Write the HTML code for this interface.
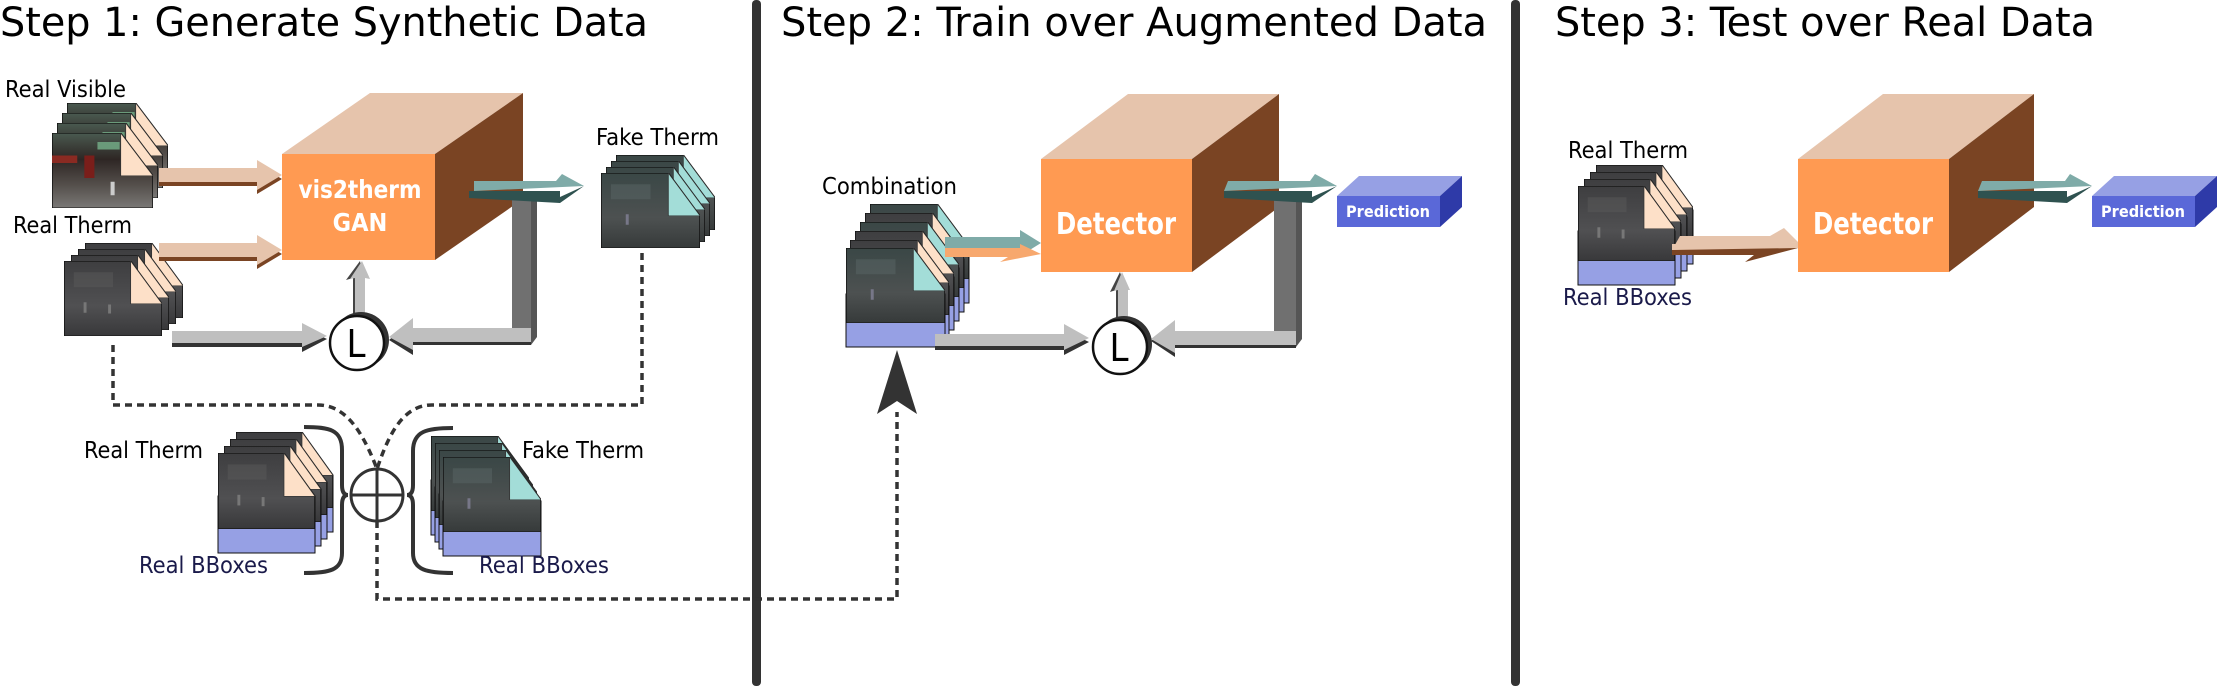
<!DOCTYPE html>
<html><head><meta charset="utf-8"><style>
html,body{margin:0;padding:0;background:#fff;}
svg{display:block;}
text{font-family:"DejaVu Sans Condensed","DejaVu Sans","Liberation Sans",sans-serif;}
</style></head><body>
<svg width="2217" height="689" viewBox="0 0 2217 689" xmlns="http://www.w3.org/2000/svg">
<defs>
<linearGradient id="gt" x1="0" y1="0" x2="0" y2="1"><stop offset="0" stop-color="#3e3e40"/><stop offset="0.6" stop-color="#505052"/><stop offset="1" stop-color="#38383a"/></linearGradient>
<linearGradient id="gf" x1="0" y1="0" x2="0" y2="1"><stop offset="0" stop-color="#3a4746"/><stop offset="0.6" stop-color="#4d5151"/><stop offset="1" stop-color="#363a3a"/></linearGradient>
<linearGradient id="gv" x1="0" y1="0" x2="0" y2="1"><stop offset="0" stop-color="#4a5a50"/><stop offset="0.35" stop-color="#2e2624"/><stop offset="0.7" stop-color="#55504c"/><stop offset="1" stop-color="#7a7876"/></linearGradient>
<symbol id="therm" viewBox="0 0 100 100" preserveAspectRatio="none">
<polygon points="0,0 68,0 100,57 100,100 0,100" fill="url(#gt)" stroke="#111" stroke-width="1.5"/>
<rect x="10" y="15" width="40" height="20" fill="#5a5a5a" opacity="0.5"/>
<rect x="20" y="55" width="3" height="14" fill="#777"/><rect x="45" y="58" width="3" height="12" fill="#777"/>
<polygon points="68,0 100,57 68,57" fill="#FDE0C8" stroke="#333" stroke-width="0.8"/>
</symbol>
<symbol id="fake" viewBox="0 0 100 100" preserveAspectRatio="none">
<polygon points="0,0 68,0 100,57 100,100 0,100" fill="url(#gf)" stroke="#111" stroke-width="1.5"/>
<rect x="10" y="15" width="40" height="20" fill="#5a6666" opacity="0.5"/>
<rect x="25" y="55" width="3" height="14" fill="#778"/>
<polygon points="68,0 100,57 68,57" fill="#A3DDD8" stroke="#333" stroke-width="0.8"/>
</symbol>
<symbol id="vis" viewBox="0 0 100 100" preserveAspectRatio="none">
<polygon points="0,0 68,0 100,57 100,100 0,100" fill="url(#gv)" stroke="#111" stroke-width="1.5"/>
<rect x="0" y="30" width="25" height="10" fill="#8a2a22"/><rect x="45" y="12" width="22" height="10" fill="#6a9a7a"/>
<rect x="32" y="30" width="10" height="30" fill="#7a1e1a"/>
<rect x="58" y="65" width="4" height="18" fill="#ccc"/>
<polygon points="68,0 100,57 68,57" fill="#FDE0C8" stroke="#333" stroke-width="0.8"/>
</symbol>
</defs>

<rect x="752" y="0" width="9" height="686" rx="4" fill="#333"/>
<rect x="1511" y="0" width="9" height="686" rx="4" fill="#333"/>

<text x="0" y="36" font-size="40" textLength="648" lengthAdjust="spacingAndGlyphs">Step 1: Generate Synthetic Data</text>
<text x="781" y="36" font-size="40" textLength="706" lengthAdjust="spacingAndGlyphs">Step 2: Train over Augmented Data</text>
<text x="1555" y="36" font-size="40" textLength="540" lengthAdjust="spacingAndGlyphs">Step 3: Test over Real Data</text>

<!-- STEP 1 -->
<text x="5" y="97" font-size="23" textLength="121" lengthAdjust="spacingAndGlyphs">Real Visible</text>
<use href="#vis" x="67" y="103" width="101" height="75"/>
<use href="#vis" x="62" y="113" width="101" height="75"/>
<use href="#vis" x="57" y="123" width="101" height="75"/>
<use href="#vis" x="52" y="133" width="101" height="75"/>

<text x="13" y="233" font-size="23" textLength="119" lengthAdjust="spacingAndGlyphs">Real Therm</text>
<use href="#therm" x="85" y="243" width="98" height="75"/>
<use href="#therm" x="78" y="249" width="98" height="75"/>
<use href="#therm" x="71" y="255" width="98" height="75"/>
<use href="#therm" x="64" y="261" width="98" height="75"/>

<text x="596" y="145" font-size="23" textLength="123" lengthAdjust="spacingAndGlyphs">Fake Therm</text>
<use href="#fake" x="616" y="155" width="99" height="75"/>
<use href="#fake" x="611" y="161" width="99" height="75"/>
<use href="#fake" x="606" y="167" width="99" height="75"/>
<use href="#fake" x="601" y="173" width="99" height="75"/>

<polygon points="159,172 257,172 257,164 282,179 257,194 257,186 159,186" fill="#7A4423"/>
<polygon points="159,168 257,168 257,160 282,175 257,190 257,182 159,182" fill="#E6C4AC"/>
<polygon points="159,247 257,247 257,239 282,254 257,269 257,261 159,261" fill="#7A4423"/>
<polygon points="159,243 257,243 257,235 282,250 257,265 257,257 159,257" fill="#E6C4AC"/>

<polygon points="282,154 435,154 523,93 370,93" fill="#E6C4AC"/>
<polygon points="435,154 523,93 523,199 435,260" fill="#7A4423"/>
<rect x="282" y="154" width="153" height="106" fill="#FF9A52"/>
<text x="360" y="198" font-size="25" font-weight="bold" fill="#fff" text-anchor="middle" textLength="123" lengthAdjust="spacingAndGlyphs">vis2therm</text>
<text x="360" y="231" font-size="25" font-weight="bold" fill="#fff" text-anchor="middle">GAN</text>

<polygon points="512,198 531,198 537,192 537,337 531,345 512,345" fill="#555"/>
<rect x="512" y="198" width="19" height="147" fill="#707070"/>
<polygon points="474,181 556,181 562,174 584,186 474,191" fill="#7FABA8"/>
<polygon points="469,191 560,191 560,197 584,186 560,203 469,198" fill="#2F5250"/>
<polygon points="531,330 413,330 413,320 389,340 413,355 413,345 531,345" fill="#333"/>
<polygon points="531,328 413,328 413,318 389,337 413,350 413,342 531,342" fill="#BFBFBF"/>

<polygon points="172,335 302,335 302,327 327,339 302,352 302,347 172,347" fill="#333"/>
<polygon points="172,331 302,331 302,323 327,336 302,347 302,343 172,343" fill="#BFBFBF"/>
<polygon points="353,318 353,278 346,280 360,261 364,280 363,318" fill="#444"/>
<polygon points="355,318 355,278 350,279 362,261 370,279 365,278 365,318" fill="#BFBFBF"/>

<circle cx="361" cy="340" r="28" fill="#333"/>
<circle cx="357" cy="343" r="27" fill="#fff" stroke="#111" stroke-width="2.5"/>
<text x="356" y="357" font-size="38" text-anchor="middle">L</text>

<g fill="none" stroke="#333" stroke-width="3.5" stroke-dasharray="7 5">
<path d="M113,345 V405 H318 C345,405 362,430 377,469"/>
<path d="M642,253 V405 H432 C405,405 390,430 377,469"/>
<path d="M377,521 V599 H897 V412"/>
</g>
<polygon points="897,350 917,414 897,401 877,414" fill="#333"/>

<circle cx="377" cy="495" r="26" fill="#fff" stroke="#333" stroke-width="3"/>
<line x1="351" y1="495" x2="403" y2="495" stroke="#333" stroke-width="3"/>
<line x1="377" y1="469" x2="377" y2="521" stroke="#333" stroke-width="3"/>

<g fill="none" stroke="#333" stroke-width="4">
<path d="M304,427 C330,427 342,430 342,450 V485 Q342,495 348,495 Q342,495 342,505 V553 C342,570 330,573 304,573"/>
<path d="M453,428 C427,428 413,431 413,451 V485 Q413,495 407,495 Q413,495 413,505 V553 C413,570 427,573 453,573"/>
</g>

<text x="84" y="458" font-size="23" textLength="119" lengthAdjust="spacingAndGlyphs">Real Therm</text>
<g>
<rect x="236" y="475" width="97" height="57" fill="#96A0E4" stroke="#111"/><use href="#therm" x="236" y="432" width="97" height="76"/>
<rect x="230" y="482" width="97" height="57" fill="#96A0E4" stroke="#111"/><use href="#therm" x="230" y="439" width="97" height="76"/>
<rect x="224" y="489" width="97" height="57" fill="#96A0E4" stroke="#111"/><use href="#therm" x="224" y="446" width="97" height="76"/>
<rect x="218" y="496" width="97" height="57" fill="#96A0E4" stroke="#111"/><use href="#therm" x="218" y="453" width="97" height="76"/>
</g>
<text x="139" y="573" font-size="23" fill="#1a1a4a" textLength="129" lengthAdjust="spacingAndGlyphs">Real BBoxes</text>

<g>
<rect x="431" y="480" width="98" height="55" fill="#96A0E4" stroke="#111"/><use href="#fake" x="431" y="436" width="98" height="75"/>
<rect x="435" y="487" width="98" height="55" fill="#96A0E4" stroke="#111"/><use href="#fake" x="435" y="443" width="98" height="75"/>
<rect x="439" y="494" width="98" height="55" fill="#96A0E4" stroke="#111"/><use href="#fake" x="439" y="450" width="98" height="75"/>
<rect x="443" y="501" width="98" height="55" fill="#96A0E4" stroke="#111"/><use href="#fake" x="443" y="457" width="98" height="75"/>
</g>
<text x="522" y="458" font-size="23" textLength="122" lengthAdjust="spacingAndGlyphs">Fake Therm</text>
<text x="479" y="573" font-size="23" fill="#1a1a4a" textLength="130" lengthAdjust="spacingAndGlyphs">Real BBoxes</text>

<!-- STEP 2 -->
<text x="822" y="194" font-size="23" textLength="135" lengthAdjust="spacingAndGlyphs">Combination</text>
<g>
<rect x="870" y="250" width="99" height="53" fill="#96A0E4" stroke="#111"/><use href="#fake" x="870" y="204" width="99" height="75"/>
<rect x="865" y="259" width="99" height="53" fill="#96A0E4" stroke="#111"/><use href="#therm" x="865" y="213" width="99" height="75"/>
<rect x="860" y="268" width="99" height="53" fill="#96A0E4" stroke="#111"/><use href="#fake" x="860" y="222" width="99" height="75"/>
<rect x="855" y="277" width="99" height="53" fill="#96A0E4" stroke="#111"/><use href="#therm" x="855" y="231" width="99" height="75"/>
<rect x="850" y="286" width="99" height="53" fill="#96A0E4" stroke="#111"/><use href="#therm" x="850" y="240" width="99" height="75"/>
<rect x="846" y="294" width="99" height="53" fill="#96A0E4" stroke="#111"/><use href="#fake" x="846" y="248" width="99" height="75"/>
</g>

<polygon points="945,237 1020,237 1020,230 1041,243 1020,256 1020,249 945,249" fill="#7FABA8"/>
<polygon points="945,248 1020,248 1020,244 1041,254 1000,262 1008,257 945,257" fill="#F7A86E"/>

<polygon points="1041,159 1192,159 1279,94 1128,94" fill="#E6C4AC"/>
<polygon points="1192,159 1279,94 1279,207 1192,272" fill="#7A4423"/>
<rect x="1041" y="159" width="151" height="113" fill="#FF9A52"/>
<text x="1116" y="234" font-size="30" font-weight="bold" fill="#fff" text-anchor="middle" textLength="120" lengthAdjust="spacingAndGlyphs">Detector</text>

<polygon points="1274,198 1296,198 1302,192 1302,339 1296,347 1274,347" fill="#555"/>
<rect x="1274" y="198" width="22" height="149" fill="#707070"/>
<polygon points="1228,181 1310,181 1315,174 1337,186 1224,191" fill="#7FABA8"/>
<polygon points="1224,191 1312,191 1312,197 1337,186 1312,203 1224,198" fill="#2F5250"/>

<polygon points="1296,333 1175,333 1175,322 1151,341 1175,357 1175,348 1296,348" fill="#333"/>
<polygon points="1296,331 1175,331 1175,320 1151,339 1175,353 1175,345 1296,345" fill="#BFBFBF"/>

<polygon points="935,338 1064,338 1064,330 1089,342 1064,355 1064,350 935,350" fill="#333"/>
<polygon points="935,334 1064,334 1064,324 1089,338 1064,350 1064,346 935,346" fill="#BFBFBF"/>

<polygon points="1116,318 1116,290 1110,292 1120,272 1126,290 1126,318" fill="#444"/>
<polygon points="1118,318 1118,290 1114,291 1122,272 1130,290 1128,290 1128,318" fill="#BFBFBF"/>

<circle cx="1124" cy="344" r="28" fill="#333"/>
<circle cx="1120" cy="347" r="27" fill="#fff" stroke="#111" stroke-width="2.5"/>
<text x="1119" y="361" font-size="38" text-anchor="middle">L</text>

<polygon points="1337,196 1440,196 1462,176 1359,176" fill="#96A0E4"/>
<polygon points="1440,196 1462,176 1462,207 1440,227" fill="#2E3AA8"/>
<rect x="1337" y="196" width="103" height="31" fill="#5A68D8"/>
<text x="1388" y="217" font-size="16" font-weight="bold" fill="#fff" text-anchor="middle" textLength="84" lengthAdjust="spacingAndGlyphs">Prediction</text>

<!-- STEP 3 -->
<text x="1568" y="158" font-size="23" textLength="120" lengthAdjust="spacingAndGlyphs">Real Therm</text>
<g>
<rect x="1596" y="210" width="97" height="54" fill="#96A0E4" stroke="#111"/><use href="#therm" x="1596" y="165" width="97" height="75"/>
<rect x="1590" y="217" width="97" height="54" fill="#96A0E4" stroke="#111"/><use href="#therm" x="1590" y="172" width="97" height="75"/>
<rect x="1584" y="224" width="97" height="54" fill="#96A0E4" stroke="#111"/><use href="#therm" x="1584" y="179" width="97" height="75"/>
<rect x="1578" y="231" width="97" height="54" fill="#96A0E4" stroke="#111"/><use href="#therm" x="1578" y="186" width="97" height="75"/>
</g>
<text x="1563" y="305" font-size="23" fill="#1a1a4a" textLength="129" lengthAdjust="spacingAndGlyphs">Real BBoxes</text>

<polygon points="1672,244 1778,244 1778,236 1798,248 1745,262 1754,255 1672,255" fill="#7A4423"/>
<polygon points="1680,236 1770,236 1784,228 1798,242 1672,250" fill="#E6C4AC"/>
<polygon points="1672,244 1798,242 1798,248 1672,250" fill="#E6C4AC"/>

<polygon points="1798,159 1949,159 2034,94 1883,94" fill="#E6C4AC"/>
<polygon points="1949,159 2034,94 2034,207 1949,272" fill="#7A4423"/>
<rect x="1798" y="159" width="151" height="113" fill="#FF9A52"/>
<text x="1873" y="234" font-size="30" font-weight="bold" fill="#fff" text-anchor="middle" textLength="120" lengthAdjust="spacingAndGlyphs">Detector</text>

<polygon points="1982,181 2065,181 2070,174 2092,186 1978,191" fill="#7FABA8"/>
<polygon points="1978,191 2067,191 2067,197 2092,186 2067,203 1978,198" fill="#2F5250"/>

<polygon points="2092,196 2195,196 2217,176 2114,176" fill="#96A0E4"/>
<polygon points="2195,196 2217,176 2217,207 2195,227" fill="#2E3AA8"/>
<rect x="2092" y="196" width="103" height="31" fill="#5A68D8"/>
<text x="2143" y="217" font-size="16" font-weight="bold" fill="#fff" text-anchor="middle" textLength="84" lengthAdjust="spacingAndGlyphs">Prediction</text>
</svg>
</body></html>
